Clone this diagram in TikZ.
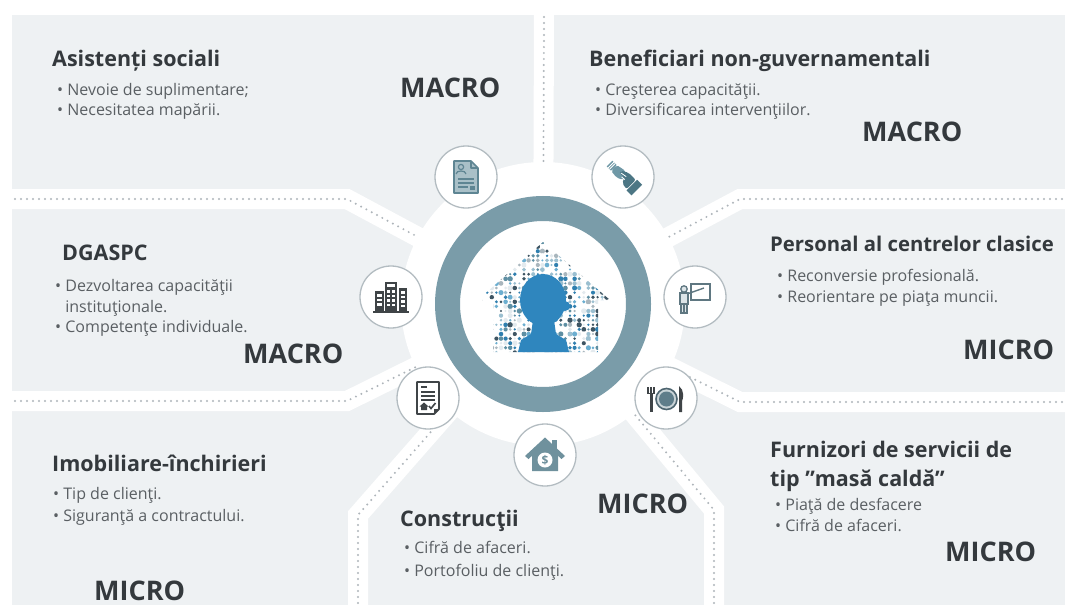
\documentclass[tikz,border=0pt]{standalone}
\usepackage{fontspec}
\setmainfont{Open Sans}
\usetikzlibrary{calc}

\definecolor{panelgray}{HTML}{EEF1F3}
\definecolor{gapdot}{HTML}{AEB5BA}
\definecolor{ringcol}{HTML}{7A9CA9}
\definecolor{iconrim}{HTML}{B3BCC1}
\definecolor{headcol}{HTML}{34393D}
\definecolor{bodycol}{HTML}{5A5F63}
\definecolor{tealicon}{HTML}{5E8593}
\definecolor{teallight}{HTML}{A9C0C8}
\definecolor{handcol}{HTML}{4C7684}
\definecolor{handlight}{HTML}{6F98A6}
\definecolor{darkicon}{HTML}{3F4447}
\definecolor{boardcol}{HTML}{5F7781}
\definecolor{boardfill}{HTML}{DDE5E8}
\definecolor{platering}{HTML}{4E6570}
\definecolor{platefill}{HTML}{C9D3D7}
\definecolor{platecore}{HTML}{5F7D8A}
\definecolor{houseteal}{HTML}{6F919D}
\definecolor{childblue}{HTML}{2F86BE}
% palette of the little pictograms inside the central house
\definecolor{clg1}{HTML}{2F7FAF}
\definecolor{clg2}{HTML}{5E8FA3}
\definecolor{clg3}{HTML}{9BBFD0}
\definecolor{clg4}{HTML}{3E5563}
\definecolor{clg5}{HTML}{A9B6BD}
\definecolor{clg6}{HTML}{6BAED0}
\definecolor{clg7}{HTML}{FFFFFF}
\definecolor{clg8}{HTML}{FFFFFF}
\definecolor{clg9}{HTML}{E3EAEE}

\tikzset{
  headtxt/.style={anchor=base west, text=headcol, inner sep=0pt,
                  font=\fontsize{21.5}{24}\selectfont\bfseries},
  itemtxt/.style={anchor=base west, text=bodycol, inner sep=0pt,
                  font=\fontsize{16}{19}\selectfont},
  tagtxt/.style={anchor=base west, text=headcol, inner sep=0pt,
                 font=\fontsize{27}{30}\selectfont\bfseries},
  gapband/.style={white, line width=20pt, line join=miter},
  gapdots/.style={gapdot, line width=2.2pt, line cap=round, dash pattern=on 0pt off 6pt},
  iconring/.style={circle, minimum size=62pt, fill=white, draw=iconrim,
                   line width=1.3pt, inner sep=0pt},
}

\begin{document}
\begin{tikzpicture}[x=1pt,y=-1pt]
\useasboundingbox (0,0) rectangle (1065,605);
\fill[white] (0,0) rectangle (1065,605);
\fill[panelgray] (12,15) rectangle (1065,605);

\coordinate (C) at (543,304);
% bends of the separating corridors
\coordinate (b2) at (347,199);
\coordinate (b3) at (347,401);
\coordinate (b4) at (740,199);
\coordinate (b5) at (740,402);
\coordinate (b6) at (358,515);
\coordinate (b7) at (714,510);
\coordinate (e1) at (544,10);
\coordinate (e2) at (0,199);
\coordinate (e3) at (0,401);
\coordinate (e4) at (1065,199);
\coordinate (e5) at (1065,402);
\coordinate (e6) at (358,605);
\coordinate (e7) at (714,605);

% white corridors between the panels
\draw[gapband] (e1) -- (C);
\draw[gapband] (e2) -- (b2) -- (C);
\draw[gapband] (e3) -- (b3) -- (C);
\draw[gapband] (e4) -- (b4) -- (C);
\draw[gapband] (e5) -- (b5) -- (C);
\draw[gapband] (e6) -- (b6) -- (C);
\draw[gapband] (e7) -- (b7) -- (C);

% white hub
\fill[white] (C) circle (142);

% dotted guides in the corridors
\draw[gapdots] (544,17) -- ($(C)!142pt!(e1)$);
\draw[gapdots] (15,199) -- (b2) -- ($(C)!142pt!(b2)$);
\draw[gapdots] (15,401) -- (b3) -- ($(C)!142pt!(b3)$);
\draw[gapdots] (1062,199) -- (b4) -- ($(C)!142pt!(b4)$);
\draw[gapdots] (1062,402) -- (b5) -- ($(C)!142pt!(b5)$);
\draw[gapdots] (358,603) -- (b6) -- ($(C)!142pt!(b6)$);
\draw[gapdots] (714,603) -- (b7) -- ($(C)!142pt!(b7)$);

% central ring
\draw[ringcol, line width=25pt] (C) circle (95.5);

% central house filled with small pictograms
\begin{scope}
  \clip (478,300) -- (543,242) -- (610,300) -- (598,300) -- (598,352)
        -- (493,352) -- (493,300) -- cycle;
  \pgfmathsetseed{11}
  \foreach \i in {0,...,29} {
    \foreach \j in {0,...,24} {
      \pgfmathrandominteger{\rc}{1}{9}
      \pgfmathsetmacro{\rs}{1.1+rnd*1.6}
      \fill[clg\rc] (478+\i*4.6, 242+\j*4.6) circle (\rs);
    }
  }
\end{scope}
% child silhouette
\fill[childblue] (543,300) ellipse (23 and 26);
\fill[childblue] (565,306) circle (5);
\fill[childblue] (533,320) -- (554,320) -- (556,334) -- (566,340) -- (569,352)
      -- (518,352) -- (521,340) -- (531,334) -- cycle;

% satellite icons
\node[iconring] (i1) at (466,177) {};
\node[iconring] (i2) at (623,177) {};
\node[iconring] (i3) at (391,297) {};
\node[iconring] (i4) at (695,297) {};
\node[iconring] (i5) at (428,398) {};
\node[iconring] (i6) at (666,398) {};
\node[iconring] (i7) at (545,455) {};

% CV sheet
\begin{scope}[shift={(i1.center)}]
  \filldraw[fill=teallight, draw=tealicon, line width=1.6pt, line join=round]
    (-12,-16) -- (5,-16) -- (12,-9) -- (12,16) -- (-12,16) -- cycle;
  \draw[tealicon, line width=1.2pt, line join=round] (5,-16) -- (5,-9) -- (12,-9);
  \draw[tealicon, line width=1.2pt] (-5,-10) circle (2.6);
  \draw[tealicon, line width=1.2pt] (-10,-3) .. controls (-10,-7) and (0,-7) .. (0,-3);
  \draw[tealicon, line width=1.6pt] (-8,2) -- (8,2) (-8,6) -- (8,6) (-8,10) -- (2,10);
  \fill[tealicon] (4,9) rectangle (9,13);
\end{scope}

% handshake
\begin{scope}[shift={(i2.center)}, rotate=-45]
  % left sleeve with stripes
  \fill[handlight] (-19,-4) rectangle (-13,4);
  \draw[white, line width=0.8pt] (-17,-4) -- (-17,4) (-15,-4) -- (-15,4);
  % left hand
  \fill[handlight, rounded corners=2pt] (-13,-4) -- (-3,-6) -- (3,-3) -- (2,2)
        -- (-4,5) -- (-13,4) -- cycle;
  % right hand wrapping over
  \fill[handcol, rounded corners=2pt] (11,-7) -- (1,-7) -- (-6,-3) -- (-5,0)
        -- (1,-1) -- (4,5) -- (11,6) -- cycle;
  \draw[white, line width=0.8pt] (-4,-1.5) -- (2,-2.5) (-1,1) -- (3,0.5);
  % right cuff
  \fill[handcol] (12,-8) rectangle (19,7);
\end{scope}

% office buildings
\begin{scope}[shift={(i3.center)}]
  \fill[darkicon] (-6,-15) rectangle (6,15);
  \fill[darkicon] (-16,-6) rectangle (-7.5,15);
  \fill[darkicon] (7.5,-9) rectangle (16,15);
  \fill[white] (-4,-13) rectangle (4,-10);
  \foreach \y in {-7,-2.5,2,6.5} {
    \fill[white] (-4,\y) rectangle (-1,\y+2.5);
    \fill[white] (1,\y) rectangle (4,\y+2.5);
  }
  \foreach \y in {-3,1.5,6} {\fill[white] (-14,\y) rectangle (-9.5,\y+2.5);}
  \foreach \y in {-6,-1.5,3,7.5} {\fill[white] (9.5,\y) rectangle (14,\y+2.5);}
  \fill[darkicon] (-18,14) rectangle (18,16);
\end{scope}

% presenter at a board
\begin{scope}[shift={(i4.center)}]
  \filldraw[fill=white, draw=boardcol, line width=1.6pt] (-4,-13) rectangle (15,3);
  \draw[boardcol, line width=1.4pt] (-8,-3) -- (9,-9);
  \filldraw[fill=boardfill, draw=boardcol, line width=1.3pt] (-11,-8) circle (3.2);
  \filldraw[fill=boardfill, draw=boardcol, line width=1.3pt] (-15,-4) rectangle (-7,7);
  \filldraw[fill=boardfill, draw=boardcol, line width=1.3pt] (-14,7) rectangle (-11.5,16);
  \filldraw[fill=boardfill, draw=boardcol, line width=1.3pt] (-10.5,7) rectangle (-8,16);
\end{scope}

% lease contract
\begin{scope}[shift={(i5.center)}]
  \draw[darkicon, line width=1.8pt, line join=round]
    (-11,-16) -- (11,-16) -- (11,11) -- (6,16) -- (-11,16) -- cycle;
  \fill[darkicon] (6,16) -- (6,11) -- (11,11) -- cycle;
  \draw[darkicon, line width=1.6pt] (-7,-11) -- (-1,-11) (-7,-6) -- (7,-6)
        (-7,-2) -- (7,-2) (-7,2) -- (7,2);
  \fill[darkicon] (-8.5,8.5) -- (-4,4.5) -- (0.5,8.5) -- (-1,8.5) -- (-1,12)
        -- (-7,12) -- (-7,8.5) -- cycle;
  \draw[darkicon, line width=1.6pt] (1,8) -- (3,10.5) -- (7.5,5);
\end{scope}

% plate and cutlery
\begin{scope}[shift={(i6.center)}]
  \fill[darkicon] (-19,-11) rectangle (-11,-4);
  \draw[white, line width=0.9pt] (-16.3,-11) -- (-16.3,-5) (-13.7,-11) -- (-13.7,-5);
  \fill[darkicon] (-16.5,-4.5) rectangle (-13.5,14);
  \filldraw[fill=platefill, draw=platering, line width=1.6pt] (0.5,1) circle (10.5);
  \fill[platecore] (0.5,1) circle (7.5);
  \fill[darkicon] (13,-12) .. controls (18.5,-8) and (17.5,1) .. (16,3)
        -- (16,14) -- (13,14) -- cycle;
\end{scope}

% house with coin
\begin{scope}[shift={(i7.center)}]
  \fill[houseteal] (7,-15) rectangle (12,-4);
  \fill[houseteal] (-20,1) -- (0,-17.5) -- (20,1) -- (16.5,4) -- (0,-11) -- (-16.5,4) -- cycle;
  \fill[houseteal] (-13,-1) -- (0,-13) -- (13,-1) -- (13,16) -- (-13,16) -- cycle;
  \fill[white] (0,5) circle (7.5);
  \node[text=houseteal, font=\fontsize{12}{12}\selectfont\bfseries] (coin) at (0,5) {\$};
\end{scope}

% ---- texts ----
% top left
\node[headtxt] (t1) at (52,66) {Asistenți sociali};
\node[itemtxt] (t1a) at (57,95) {• Nevoie de suplimentare;};
\node[itemtxt] (t1b) at (57,115) {• Necesitatea mapării.};
\node[tagtxt] (t1m) at (400,97) {MACRO};

% top right
\node[headtxt] (t2) at (589,66) {Beneficiari non-guvernamentali};
\node[itemtxt] (t2a) at (595,95) {• Creşterea capacităţii.};
\node[itemtxt] (t2b) at (595,115) {• Diversificarea intervenţiilor.};
\node[tagtxt] (t2m) at (862,141) {MACRO};

% middle left
\node[headtxt] (t3) at (62,260) {DGASPC};
\node[itemtxt] (t3a) at (55,291) {• Dezvoltarea capacităţii};
\node[itemtxt] (t3b) at (55,312) {\phantom{• }instituţionale.};
\node[itemtxt] (t3c) at (55,332) {• Competenţe individuale.};
\node[tagtxt] (t3m) at (243,363) {MACRO};

% middle right
\node[headtxt, font=\fontsize{20.3}{24}\selectfont\bfseries] (t4) at (770,251)
  {Personal al centrelor clasice};
\node[itemtxt] (t4a) at (777,281) {• Reconversie profesională.};
\node[itemtxt] (t4b) at (777,302) {• Reorientare pe piaţa muncii.};
\node[tagtxt] (t4m) at (963,359) {MICRO};

% bottom left
\node[headtxt] (t5) at (52,471) {Imobiliare-închirieri};
\node[itemtxt] (t5a) at (53,499) {• Tip de clienţi.};
\node[itemtxt] (t5b) at (53,521) {• Siguranţă a contractului.};
\node[tagtxt] (t5m) at (94,600) {MICRO};

% bottom middle
\node[headtxt] (t6) at (400,526) {Construcţii};
\node[itemtxt] (t6a) at (404,553) {• Cifră de afaceri.};
\node[itemtxt] (t6b) at (404,576) {• Portofoliu de clienţi.};
\node[tagtxt] (t6m) at (597,513) {MICRO};

% bottom right
\node[headtxt] (t7) at (770,457) {Furnizori de servicii de};
\node[headtxt] (t7b) at (770,486) {tip ”masă caldă”};
\node[itemtxt] (t7c) at (775,510) {• Piaţă de desfacere};
\node[itemtxt] (t7d) at (775,531) {• Cifră de afaceri.};
\node[tagtxt] (t7m) at (945,561) {MICRO};
\end{tikzpicture}
\end{document}
